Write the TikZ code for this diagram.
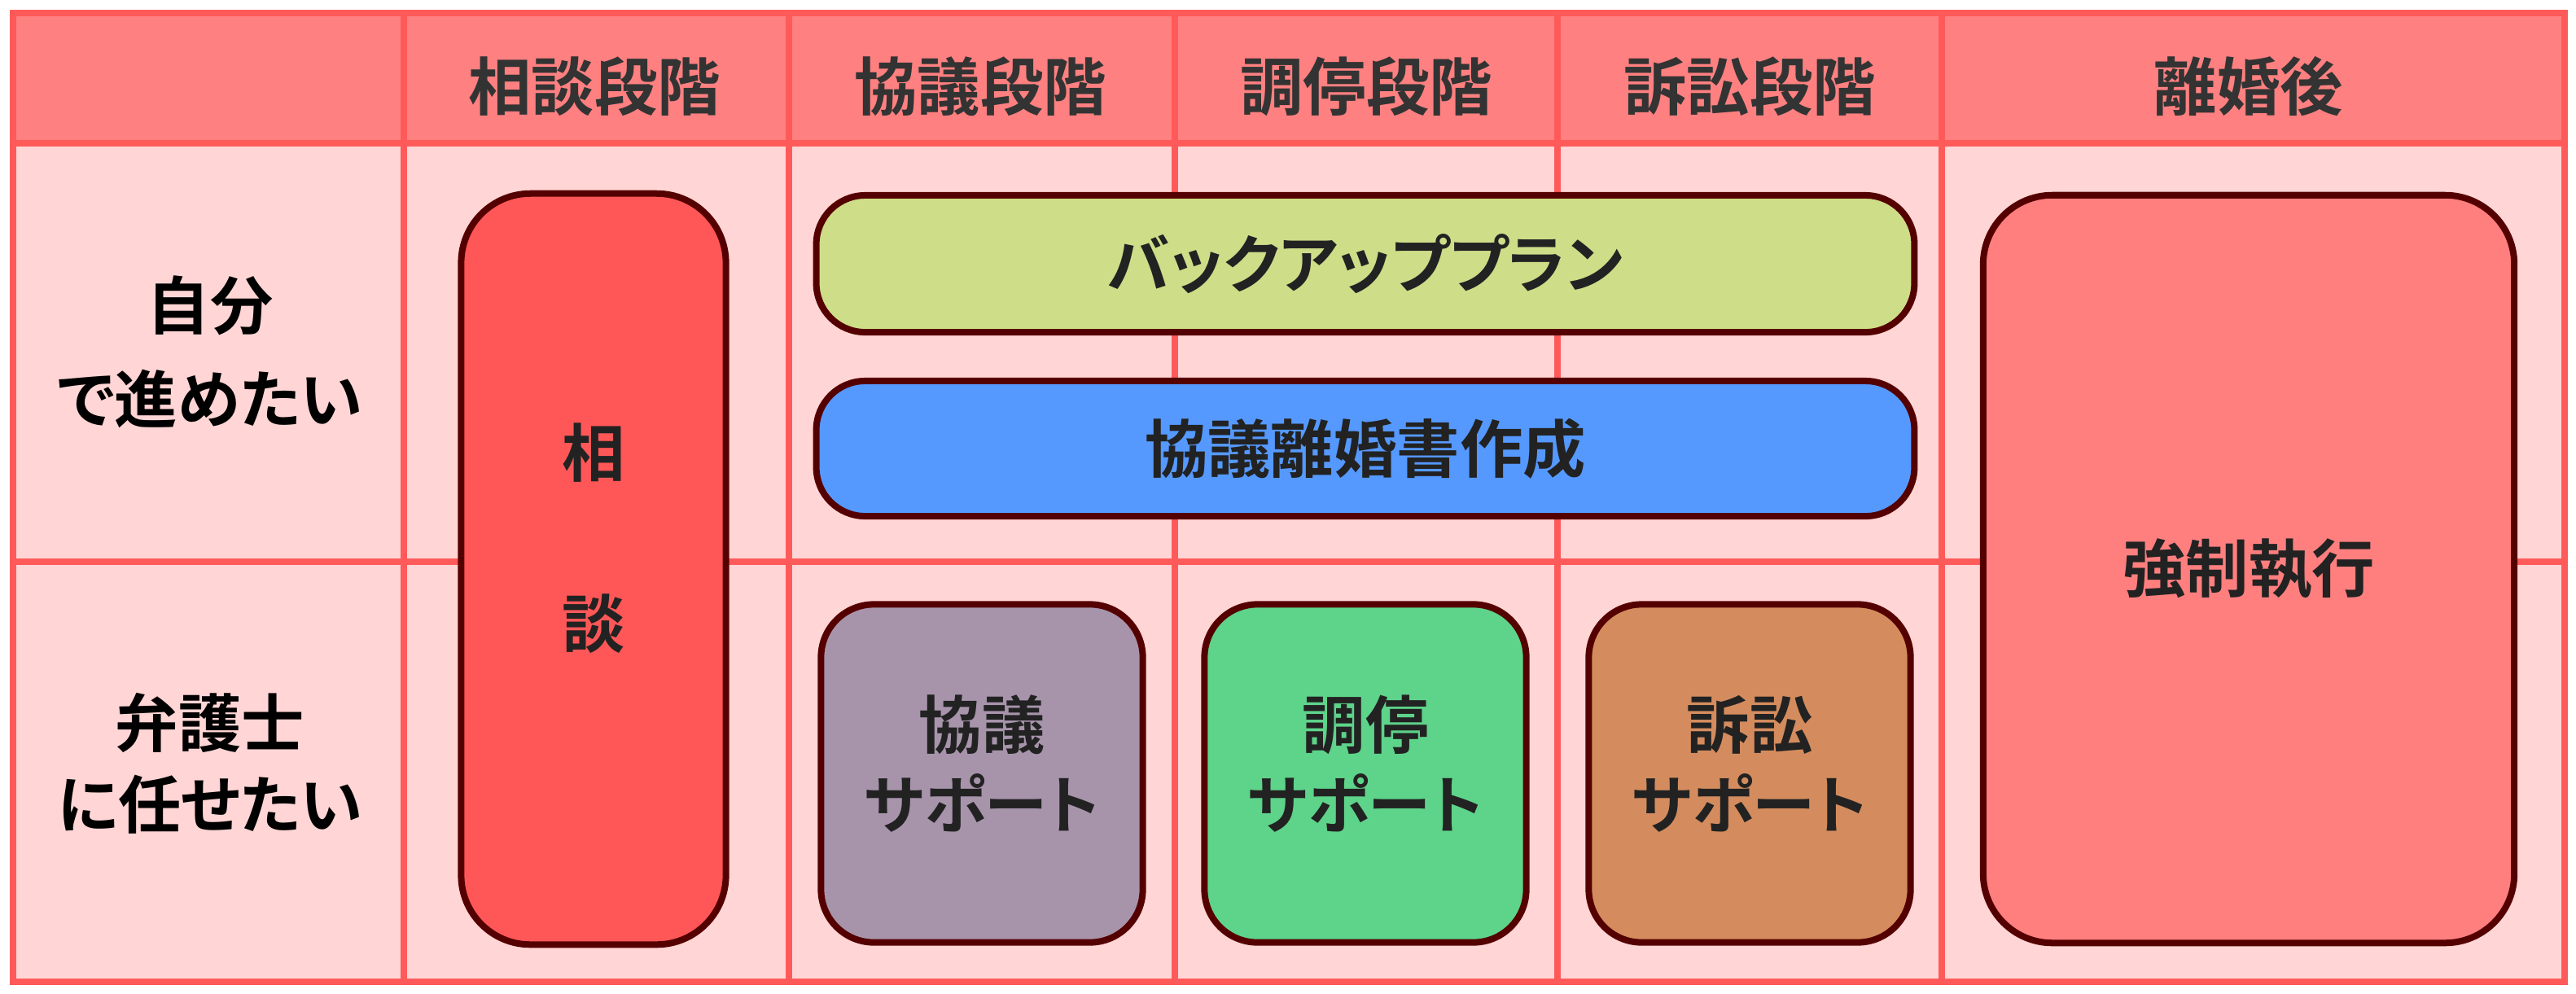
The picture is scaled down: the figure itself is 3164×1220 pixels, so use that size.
\documentclass[tikz,border=0pt]{standalone}
\usepackage{fontspec}
\newfontfamily\jp{Noto Sans CJK JP Bold}[RawFeature=+palt]
\usetikzlibrary{positioning}
\definecolor{gridred}{HTML}{FF5A5A}
\definecolor{headfill}{HTML}{FF8080}
\definecolor{bodyfill}{HTML}{FFD5D5}
\definecolor{boxline}{HTML}{550000}
\definecolor{headtext}{HTML}{333333}
\definecolor{boxtext}{HTML}{222222}
\definecolor{soudanfill}{HTML}{FF5757}
\definecolor{backupfill}{HTML}{CEDD88}
\definecolor{shofill}{HTML}{5599FF}
\definecolor{kyogifill}{HTML}{A794AB}
\definecolor{choteifill}{HTML}{5ED38A}
\definecolor{soshofill}{HTML}{D48C5E}
\definecolor{kyoseifill}{HTML}{FF7F7F}
\tikzset{
  jptext/.style={font=\jp\fontsize{22pt}{27pt}\selectfont, align=center},
  headlabel/.style={jptext, text=headtext},
  rowlabel/.style={jptext, text=black},
  stagebox/.style={jptext, text=boxtext, draw=boxline, line width=0.08cm, rounded corners=0.6cm, inner sep=0pt},
  supportbox/.style={stagebox, rounded corners=0.65cm, minimum width=3.95cm, minimum height=4.15cm},
  gridline/.style={draw=gridred, line width=0.08cm}
}
\begin{document}
\begin{tikzpicture}[x=0.01cm, y=-0.01cm]
\useasboundingbox (0,0) rectangle (3164,1220);
\fill[headfill] (16,16) rectangle (3150,176);
\fill[bodyfill] (16,176) rectangle (3150,1206);
\draw[gridline] (16,176) -- (3150,176);
\draw[gridline] (16,690) -- (3150,690);
\foreach \x in {496,969,1443,1913,2385}
  \draw[gridline] (\x,16) -- (\x,1206);
\draw[gridline] (16,16) rectangle (3150,1206);

\foreach \x/\t [count=\i] in {730/相談段階, 1204/協議段階, 1678/調停段階, 2149/訴訟段階, 2762/離婚後}
  \node[headlabel] (h\i) at (\x,106) {\t};

\node[rowlabel] (self) at (258,432) {自分\\[0.2cm]で進めたい};
\node[rowlabel] (lawyer) at (258,938) {弁護士\\[0.05cm]に任せたい};

\node[stagebox, fill=soudanfill, rounded corners=0.85cm, minimum width=3.25cm, minimum height=9.22cm] (soudan) at (729,699) {相\\[1.15cm]談\\[-0.13cm]\mbox{}};
\node[stagebox, fill=backupfill, minimum width=13.48cm, minimum height=1.68cm] (backup) at (1677,324) {バックアッププラン};
\node[stagebox, fill=shofill, minimum width=13.48cm, minimum height=1.66cm] (kyogisho) at (1677,551) {協議離婚書作成};
\node[supportbox, fill=kyogifill] (kyogi) at (1206,950) {協議\\[0.03cm]サポート\\[-0.67cm]\mbox{}};
\node[supportbox, fill=choteifill] (chotei) at (1677,950) {調停\\[0.03cm]サポート\\[-0.67cm]\mbox{}};
\node[supportbox, fill=soshofill] (sosho) at (2149,950) {訴訟\\[0.03cm]サポート\\[-0.67cm]\mbox{}};
\node[stagebox, fill=kyoseifill, rounded corners=0.85cm, minimum width=6.52cm, minimum height=9.18cm] (kyosei) at (2762,699) {強制執行};
\end{tikzpicture}
\end{document}
